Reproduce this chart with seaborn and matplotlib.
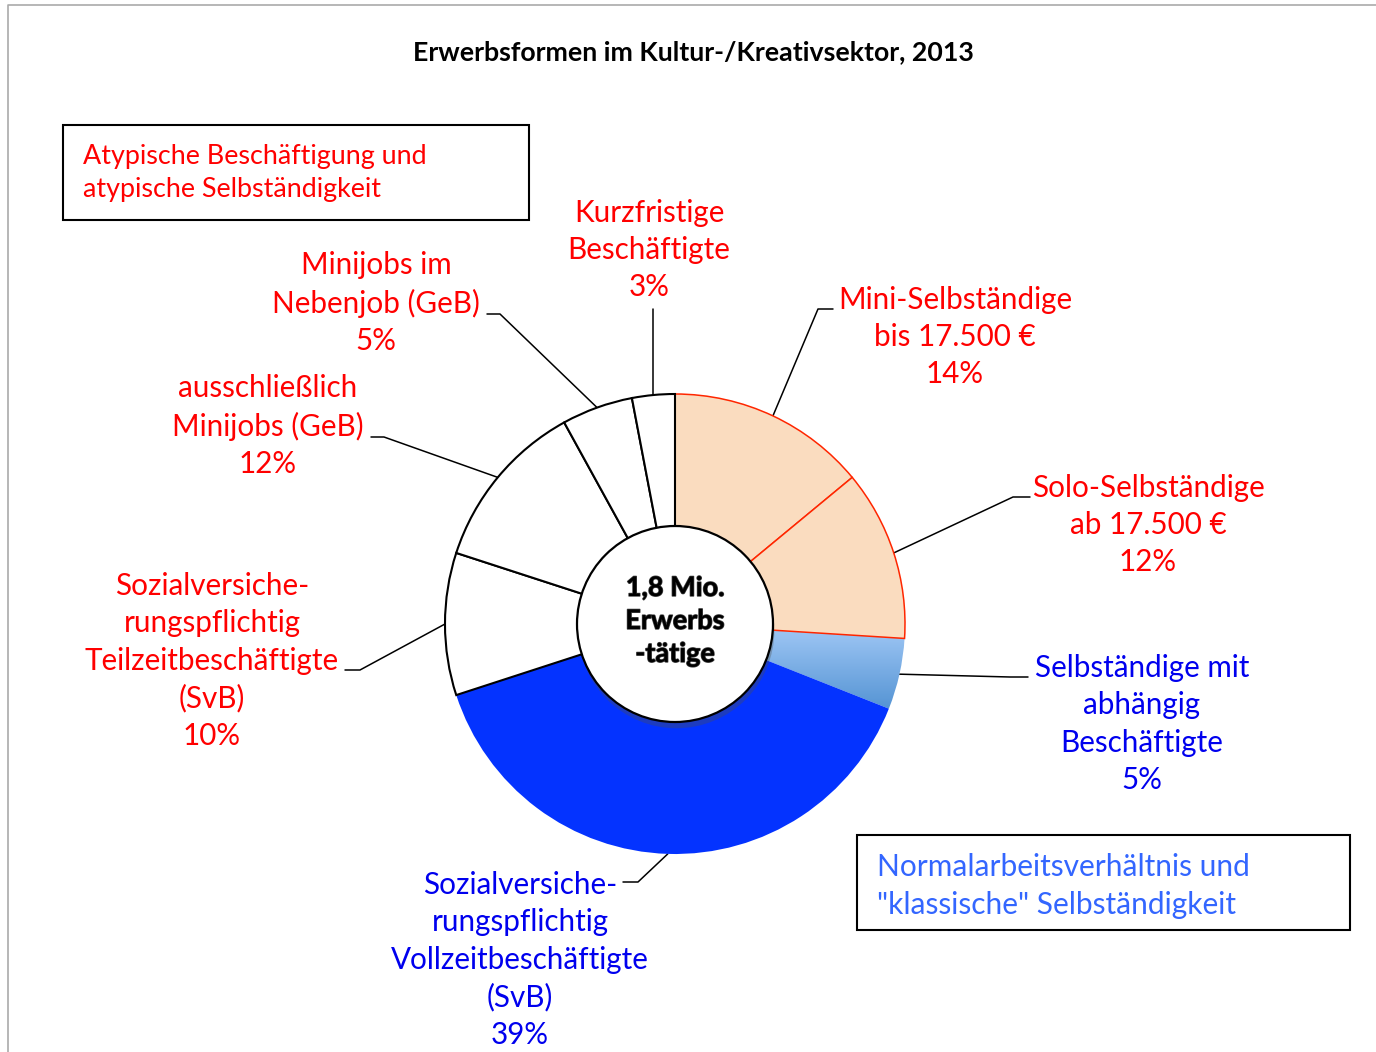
import numpy as np
import matplotlib
matplotlib.use("Agg")
import matplotlib.pyplot as plt
import matplotlib.patheffects as pe
from matplotlib.patches import Circle, Rectangle
from matplotlib.colors import LinearSegmentedColormap
import seaborn as sns

# data (clockwise from 12 o'clock)
categories = [
    "Mini-Selbständige\nbis 17.500 €",
    "Solo-Selbständige\nab 17.500 €",
    "Selbständige mit\nabhängig\nBeschäftigte",
    "Sozialversiche-\nrungspflichtig\nVollzeitbeschäftigte\n(SvB)",
    "Sozialversiche-\nrungspflichtig\nTeilzeitbeschäftigte\n(SvB)",
    "ausschließlich\nMinijobs (GeB)",
    "Minijobs im\nNebenjob (GeB)",
    "Kurzfristige\nBeschäftigte",
]
shares = [14, 12, 5, 39, 10, 12, 5, 3]
group = ["atyp", "atyp", "norm", "norm", "atyp", "atyp", "atyp", "atyp"]

title = "Erwerbsformen im Kultur-/Kreativsektor, 2013"
center_text = "1,8 Mio.\nErwerbs\n-tätige"
box_atyp = "Atypische Beschäftigung und\natypische Selbständigkeit"
box_norm = "Normalarbeitsverhältnis und\n\"klassische\" Selbständigkeit"

# styles
RED = "#FF0000"
BLUE = "#0000EE"
face = ["#FADCBF", "#FADCBF", "none", "#0433FF", "white", "white", "white", "white"]
edge = ["#FF2600", "#FF2600", "none", "none", "black", "black", "black", "black"]
lw = [1.1, 1.1, 0, 0, 1.5, 1.5, 1.5, 1.5]

# label layout in pixels: text centre, elbow, end of short horizontal
lab_pos = [(955, 337), (1148, 525), (1142, 724), (520, 960),
           (212, 661), (268, 426), (376, 303), (649, 250)]
elbows = [(818, 309), (1013, 497), (1010, 677), (638, 882),
          (360, 670), (384, 437), (500, 314), (None, 309)]
ends = [(833, 309), (1030, 497), (1028, 677), (623, 882),
        (345, 670), (371, 437), (487, 314), (None, 309)]

sns.set_theme(style="white")
plt.rcParams["font.family"] = ["Lato", "DejaVu Sans"]

W, H = 1376, 1052
fig = plt.figure(figsize=(W / 100, H / 100), dpi=100)
ax = fig.add_axes([0, 0, 1, 1])

cx, cy, R = 675, 624, 230
wedges, _ = ax.pie(shares, startangle=270, counterclock=True,
                   center=(cx, cy), radius=R,
                   wedgeprops=dict(width=R - 94))
for w, f, e, l in zip(wedges, face, edge, lw):
    w.set_facecolor(f)
    w.set_edgecolor(e)
    w.set_linewidth(l)
    w.set_zorder(2)

ax.set_xlim(0, W)
ax.set_ylim(H, 0)
ax.set_aspect("equal")
ax.axis("off")

# gradient fill for the light blue slice
gw = wedges[2]
v = gw.get_path().vertices
grad = np.linspace(0, 1, 200).reshape(-1, 1)
cmap = LinearSegmentedColormap.from_list("lb", ["#A2C9F6", "#5594D4"])
im = ax.imshow(grad, cmap=cmap, aspect="auto", origin="upper",
               extent=(v[:, 0].min(), v[:, 0].max(), v[:, 1].max(), v[:, 1].min()),
               zorder=1.5)
im.set_clip_path(gw)
wedges[1].set_zorder(2.5)

# centre circle
circ = Circle((cx, cy), 98, facecolor="white", edgecolor="black", lw=1.6, zorder=3,
              path_effects=[pe.SimplePatchShadow(offset=(1, -4.5), alpha=0.35), pe.Normal()])
ax.add_patch(circ)
ax.text(cx, cy - 3, center_text, ha="center", va="center", fontsize=19.5,
        fontweight="bold", color="black", linespacing=1.45, zorder=4,
        path_effects=[pe.withStroke(linewidth=1, foreground="#444444")])

# labels and leader lines
for w, txt, s, g, (tx, ty), el, en in zip(wedges, categories, shares, group,
                                          lab_pos, elbows, ends):
    mid = np.deg2rad((w.theta1 + w.theta2) / 2)
    px, py = cx + R * np.cos(mid), cy + R * np.sin(mid)
    ex = px if el[0] is None else el[0]
    nx = px if en[0] is None else en[0]
    ax.plot([px, ex, nx], [py, el[1], en[1]], color="black", lw=1.1, zorder=1)
    ax.text(tx, ty, f"{txt}\n{s}%", ha="center", va="center", fontsize=21.3,
            color=RED if g == "atyp" else BLUE, linespacing=1.4)

# title
ax.text(693, 52, title, ha="center", va="center", fontsize=19.3, fontweight="bold",
        color="black")

# legend boxes
ax.add_patch(Rectangle((63, 125), 466, 95, fill=False, edgecolor="black", lw=1.5))
ax.text(83, 173, box_atyp, ha="left", va="center", fontsize=19.4, color=RED,
        linespacing=1.42)
ax.add_patch(Rectangle((857, 835), 493, 95, fill=False, edgecolor="black", lw=1.5))
ax.text(877, 886, box_norm, ha="left", va="center", fontsize=21.5, color="#3366FF",
        linespacing=1.42)

# outer frame
ax.plot([8, 8, W + 5], [H + 5, 5, 5], color="#AAAAAA", lw=1.2, clip_on=False)

fig.savefig("out.png", dpi=100)
